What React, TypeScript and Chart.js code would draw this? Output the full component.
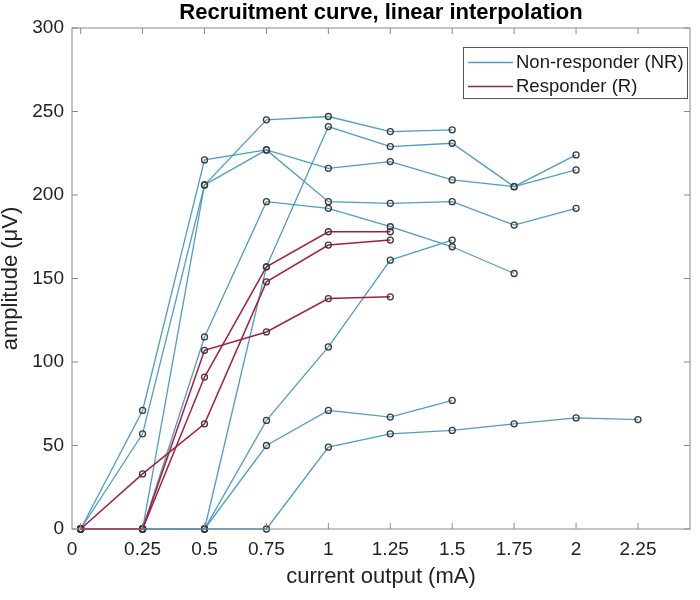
import { useEffect, useRef } from "react"
import { Chart, registerables } from "chart.js"

Chart.register(...registerables)

// stimulation steps (mA)
const X_VALUES = [0, 0.25, 0.5, 0.75, 1, 1.25, 1.5, 1.75, 2, 2.25]
const X_TICKS = [0, 0.25, 0.5, 0.75, 1, 1.25, 1.5, 1.75, 2, 2.25]
const X_TICK_LABELS = ["0", "0.25", "0.5", "0.75", "1", "1.25", "1.5", "1.75", "2", "2.25"]
const X_MIN = -0.035
const X_MAX = 2.46
const Y_TICKS = [0, 50, 100, 150, 200, 250, 300]

// non-responders, amplitude (µV) per step
const NR_1 = [0, 71, 221, 227, 216, 220, 209, 205, 215]
const NR_2 = [0, 57, 206, 245, 247, 238, 239]
const NR_3 = [0, 0, 206, 227, 196, 195, 196, 182, 192]
const NR_4 = [0, 0, 115, 196, 192, 181, 169, 153]
const NR_5 = [0, 0, 0, 157, 241, 229, 231, 205, 224]
const NR_6 = [0, 0, 0, 65, 109, 161, 173]
const NR_7 = [0, 0, 0, 50, 71, 67, 77]
const NR_8 = [0, 0, 0, 0, 49, 57, 59, 63, 66.5, 65.5]

// responders
const R_1 = [0, 33, 63, 148, 170, 173]
const R_2 = [0, 0, 107, 118, 138, 139]
const R_3 = [0, 0, 91, 157, 178, 178]

const NR_SERIES = [NR_1, NR_2, NR_3, NR_4, NR_5, NR_6, NR_7, NR_8]
const R_SERIES = [R_1, R_2, R_3]

const LEGEND_LABELS = ["Non-responder (NR)", "Responder (R)"]
const NR_COLOR = "#4f9cc6"
const R_COLOR = "#a3203d"
const FONT = "'Liberation Sans', Arial, sans-serif"

const toPoints = (ys: number[]) => ys.map((y, i) => ({ x: X_VALUES[i], y }))

// box around the axes with inward ticks, matlab style
const boxFrame = {
  id: "boxFrame",
  afterDatasetsDraw(chart: any) {
    const { ctx, chartArea, scales } = chart
    const { left, right, top, bottom } = chartArea
    ctx.save()
    ctx.strokeStyle = "#8a8a8a"
    ctx.lineWidth = 1
    ctx.strokeRect(left, top, right - left, bottom - top)
    ctx.beginPath()
    X_TICKS.forEach((v) => {
      const px = scales.x.getPixelForValue(v)
      ctx.moveTo(px, bottom)
      ctx.lineTo(px, bottom - 6)
      ctx.moveTo(px, top)
      ctx.lineTo(px, top + 6)
    })
    Y_TICKS.forEach((v) => {
      const py = scales.y.getPixelForValue(v)
      ctx.moveTo(left, py)
      ctx.lineTo(left + 6, py)
      ctx.moveTo(right, py)
      ctx.lineTo(right - 6, py)
    })
    ctx.stroke()
    ctx.restore()
  },
}

// legend drawn inside the plot, top right, with a border
const legendBox = {
  id: "legendBox",
  afterDraw(chart: any) {
    const { ctx, chartArea } = chart
    const w = 224
    const h = 51
    const x0 = chartArea.right - 3 - w
    const y0 = chartArea.top + 19
    ctx.save()
    ctx.fillStyle = "#fff"
    ctx.fillRect(x0, y0, w, h)
    ctx.strokeStyle = "#555"
    ctx.lineWidth = 1
    ctx.strokeRect(x0 + 0.5, y0 + 0.5, w, h)
    const colors = [NR_COLOR, R_COLOR]
    LEGEND_LABELS.forEach((label, i) => {
      const y = y0 + 15.5 + i * 24
      ctx.strokeStyle = colors[i]
      ctx.lineWidth = 1.5
      ctx.beginPath()
      ctx.moveTo(x0 + 5, y)
      ctx.lineTo(x0 + 50, y)
      ctx.stroke()
      ctx.fillStyle = "#1a1a1a"
      ctx.font = `18.5px ${FONT}`
      ctx.textBaseline = "middle"
      ctx.fillText(label, x0 + 53, y)
    })
    ctx.restore()
  },
}

export default function App() {
  const chartRef = useRef<HTMLCanvasElement>(null)
  const chartInstance = useRef<Chart | null>(null)

  useEffect(() => {
    if (!chartRef.current) return
    const ctx = chartRef.current.getContext("2d")
    if (!ctx) return

    if (chartInstance.current) {
      chartInstance.current.destroy()
    }

    const lineStyle = (color: string, width: number) => ({
      borderColor: color,
      borderWidth: width,
      pointRadius: 3,
      pointBorderWidth: 1.3,
      pointBorderColor: "#3a3a3a",
      pointBackgroundColor: "rgba(255,255,255,0)",
      tension: 0,
      fill: false,
      clip: false as any,
    })

    const datasets = [
      ...NR_SERIES.map((s, i) => ({
        label: i === 0 ? LEGEND_LABELS[0] : "",
        data: toPoints(s),
        order: 1,
        ...lineStyle(NR_COLOR, 1.3),
      })),
      ...R_SERIES.map((s, i) => ({
        label: i === 0 ? LEGEND_LABELS[1] : "",
        data: toPoints(s),
        order: 0,
        ...lineStyle(R_COLOR, 1.5),
      })),
    ]

    chartInstance.current = new Chart(ctx, {
      type: "line",
      data: { datasets },
      plugins: [boxFrame, legendBox],
      options: {
        responsive: true,
        maintainAspectRatio: false,
        animation: false,
        layout: { padding: { left: 0, right: 10, top: 0, bottom: 0 } },
        scales: {
          x: {
            type: "linear",
            min: X_MIN,
            max: X_MAX,
            grid: { display: false, drawTicks: false },
            border: { display: false },
            afterBuildTicks: (scale: any) => {
              // the "0" label sits at the left edge of the axes
              scale.ticks = [{ value: X_MIN }, ...X_TICKS.map((v) => ({ value: v }))]
            },
            afterFit: (scale: any) => {
              scale.height = 71
            },
            ticks: {
              autoSkip: false,
              maxRotation: 0,
              padding: 9,
              color: "#222",
              font: { family: FONT, size: 19 },
              callback: (_v: any, index: number) =>
                index === 0 ? X_TICK_LABELS[0] : index === 1 ? "" : X_TICK_LABELS[index - 1],
            },
            title: {
              display: true,
              text: "current output (mA)",
              color: "#222",
              font: { family: FONT, size: 22, lineHeight: 1 },
              padding: { top: 0, bottom: 12 },
            },
          },
          y: {
            min: 0,
            max: 300,
            grid: { display: false, drawTicks: false },
            border: { display: false },
            afterBuildTicks: (scale: any) => {
              scale.ticks = Y_TICKS.map((v) => ({ value: v }))
            },
            afterFit: (scale: any) => {
              scale.width = 72
            },
            ticks: {
              padding: 8,
              color: "#222",
              font: { family: FONT, size: 19 },
            },
            title: {
              display: true,
              text: "amplitude (μV)",
              color: "#222",
              font: { family: FONT, size: 22, lineHeight: 1 },
              padding: { top: 0, bottom: 0 },
            },
          },
        },
        plugins: {
          legend: { display: false },
          tooltip: { enabled: false },
          title: {
            display: true,
            fullSize: false,
            text: "Recruitment curve, linear interpolation",
            color: "#000",
            font: { family: FONT, size: 22, weight: "bold" },
            padding: { top: 0, bottom: 1.6 },
          },
        },
      },
    })

    return () => {
      if (chartInstance.current) {
        chartInstance.current.destroy()
        chartInstance.current = null
      }
    }
  }, [])

  return (
    <div style={{ position: "absolute", left: 0, top: 0, width: 700, height: 600, background: "#fff" }}>
      <canvas ref={chartRef} aria-label="Recruitment curve chart" role="img"></canvas>
    </div>
  )
}
